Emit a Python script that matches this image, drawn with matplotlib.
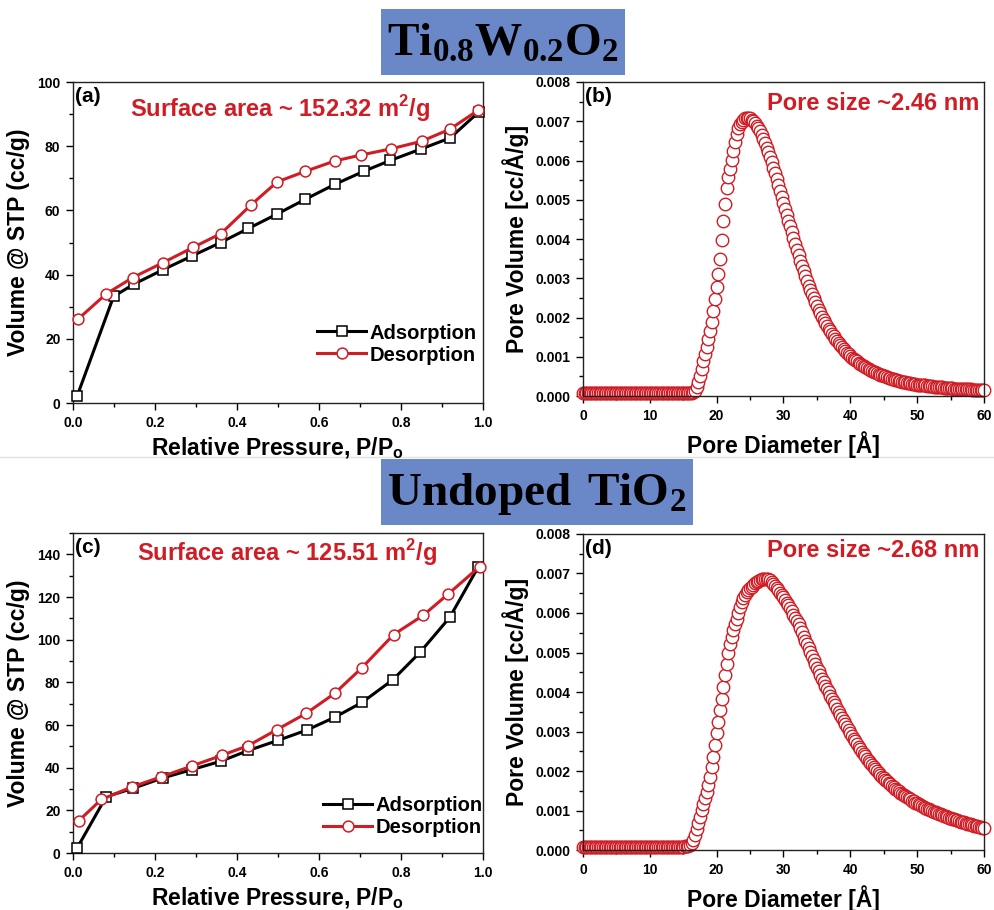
import numpy as np
import matplotlib
matplotlib.use("Agg")
import matplotlib.pyplot as plt
from matplotlib.patches import Rectangle
from matplotlib.lines import Line2D
from matplotlib.ticker import MultipleLocator, FormatStrFormatter

plt.rcParams["font.family"] = ["Liberation Sans", "DejaVu Sans"]
plt.rcParams["font.weight"] = "bold"
plt.rcParams["axes.labelweight"] = "bold"
plt.rcParams["mathtext.fontset"] = "custom"
plt.rcParams["mathtext.rm"] = "Liberation Sans:bold"
plt.rcParams["mathtext.bf"] = "Liberation Serif:bold"

RED = "#d01c24"
BOX_BLUE = "#6a88c8"

# -------------------------
# (a) Ti0.8W0.2O2 isotherm
# -------------------------
p_ads_a = [0.01, 0.099, 0.148, 0.219, 0.29, 0.36, 0.428, 0.498, 0.567, 0.638, 0.711, 0.774, 0.85, 0.92, 0.99]
v_ads_a = [2.1, 33.2, 37.0, 41.5, 45.8, 50.0, 54.4, 58.9, 63.5, 68.1, 72.3, 75.6, 79.2, 82.6, 90.7]
p_des_a = [0.012, 0.081, 0.146, 0.219, 0.293, 0.361, 0.434, 0.498, 0.567, 0.638, 0.703, 0.776, 0.851, 0.919, 0.988]
v_des_a = [26.1, 34.0, 39.1, 43.7, 48.5, 52.8, 61.7, 68.9, 72.2, 75.4, 77.3, 79.2, 81.6, 85.3, 91.2]

# -------------------------
# (c) undoped TiO2 isotherm
# -------------------------
p_ads_c = [0.01, 0.081, 0.146, 0.219, 0.29, 0.36, 0.428, 0.5, 0.571, 0.638, 0.705, 0.78, 0.847, 0.919, 0.989]
v_ads_c = [2.3, 26.4, 30.3, 35.2, 39.1, 43.0, 48.1, 52.8, 57.7, 63.6, 70.6, 81.2, 94.2, 110.5, 134.3]
p_des_c = [0.014, 0.069, 0.144, 0.215, 0.29, 0.363, 0.428, 0.498, 0.569, 0.638, 0.705, 0.782, 0.854, 0.915, 0.992]
v_des_c = [15.1, 25.1, 31.0, 35.7, 40.8, 45.8, 50.4, 57.9, 65.5, 74.8, 86.9, 102.4, 111.4, 121.4, 134.3]

# -------------------------
# Pore size distributions, 0.25 A steps from 0 to 60 A
# values in units of 1e-5 cc/A/g
# -------------------------
PSD_STEP = 0.25
psd_flat = [8] * 60  # 0 .. 14.75 A, flat baseline

psd_b = psd_flat + [
    8, 8, 8, 8, 8, 8, 9, 14, 22, 35, 52, 70, 90, 108, 126, 145, 165, 189, 217, 247,
    278, 312, 350, 397, 447, 490, 530, 557, 579, 601, 624, 648, 668, 682, 692, 699, 704, 707, 709, 709,
    707, 704, 700, 695, 689, 682, 674, 665, 655, 644, 633, 621, 608, 595, 581, 567, 552, 537, 522, 507,
    492, 477, 462, 447, 432, 417, 402, 387, 373, 359, 345, 331, 318, 305, 293, 281, 270, 259, 249, 239,
    229, 220, 211, 202, 194, 186, 179, 172, 165, 158, 152, 146, 140, 134, 129, 124, 119, 114, 110, 106,
    102, 98, 95, 91, 88, 85, 82, 79, 76, 73, 71, 68, 66, 64, 62, 60, 58, 56, 54, 53,
    51, 50, 48, 47, 45, 44, 43, 41, 40, 39, 38, 37, 36, 35, 34, 33, 32, 31, 31, 30,
    29, 29, 28, 28, 27, 27, 26, 26, 25, 25, 24, 24, 23, 23, 22, 22, 21, 21, 21, 20,
    20, 20, 19, 19, 19, 18, 18, 18, 18, 17, 17, 17, 17, 16, 16, 16, 16, 15, 15, 15,
    15,
]

psd_d = psd_flat + [
    8, 9, 10, 11, 13, 18, 26, 38, 52, 68, 84, 101, 116, 131, 148, 165, 185, 209, 235, 265,
    295, 324, 354, 383, 413, 442, 472, 499, 522, 540, 557, 572, 586, 600, 614, 627, 637, 645, 652, 658,
    663, 667, 672, 675, 679, 682, 684, 686, 687, 687, 686, 685, 683, 679, 674, 669, 663, 657, 651, 646,
    640, 633, 626, 619, 612, 604, 596, 588, 580, 571, 562, 551, 540, 530, 521, 511, 502, 492, 482, 472,
    462, 453, 443, 434, 425, 416, 407, 399, 390, 382, 374, 366, 358, 350, 342, 335, 327, 319, 311, 304,
    296, 289, 282, 275, 268, 262, 255, 249, 243, 237, 231, 226, 220, 215, 210, 205, 200, 195, 191, 186,
    182, 178, 174, 170, 166, 162, 159, 155, 152, 149, 145, 142, 139, 136, 133, 131, 128, 125, 123, 120,
    118, 116, 113, 111, 109, 107, 105, 103, 101, 99, 97, 96, 94, 92, 90, 89, 87, 85, 84, 82,
    81, 79, 78, 76, 75, 74, 72, 71, 70, 69, 67, 66, 65, 64, 62, 61, 60, 59, 58, 57,
    56,
]


def style_axes(ax):
    for sp in ax.spines.values():
        sp.set_linewidth(1.0)
        sp.set_color("#222222")
    ax.tick_params(which="major", direction="out", length=5, width=1.0,
                   labelsize=10, pad=4, top=False, right=False)
    ax.tick_params(which="minor", direction="out", length=3, width=1.0,
                   top=False, right=False)
    for lab in ax.get_xticklabels() + ax.get_yticklabels():
        lab.set_fontweight("bold")


def plot_isotherm(ax, p_ads, v_ads, p_des, v_des, ymax, panel, area, leg_anchor):
    ax.plot(p_ads, v_ads, color="black", lw=2.2, marker="s", ms=7.2,
            mfc="white", mec="black", mew=1.1, label="Adsorption", clip_on=False, zorder=3)
    ax.plot(p_des, v_des, color=RED, lw=2.2, marker="o", ms=7.8,
            mfc="white", mec=RED, mew=1.1, label="Desorption", clip_on=False, zorder=4)
    ax.set_xlim(0, 1.0)
    ax.set_ylim(0, ymax)
    ax.xaxis.set_major_locator(MultipleLocator(0.2))
    ax.xaxis.set_minor_locator(MultipleLocator(0.1))
    ax.xaxis.set_major_formatter(FormatStrFormatter("%.1f"))
    ax.yaxis.set_major_locator(MultipleLocator(20))
    ax.yaxis.set_minor_locator(MultipleLocator(10))
    ax.yaxis.set_major_formatter(FormatStrFormatter("%d"))
    ax.set_xlabel("Relative Pressure, P/P$_\\mathrm{o}$", fontsize=16.5, labelpad=4)
    ax.set_ylabel("Volume @ STP (cc/g)", fontsize=16.5, labelpad=5)
    ax.text(0.005, 0.985, panel, transform=ax.transAxes, fontsize=15,
            va="top", ha="left")
    ax.text(area[0], area[1], area[2], transform=ax.transAxes, fontsize=17,
            color=RED, va="center", ha="center")
    ax.legend(loc="lower right", bbox_to_anchor=leg_anchor, frameon=False,
              prop={"size": 14.5, "weight": "bold"}, handlelength=2.4,
              handletextpad=0.2, labelspacing=0.15, borderpad=0, borderaxespad=0)
    style_axes(ax)


def plot_psd(ax, values, panel, size_text, size_y):
    y = np.array(values) * 1e-5
    x = np.arange(len(y)) * PSD_STEP
    ax.plot(x, y, linestyle="none", marker="o", ms=9.0, mfc="white",
            mec=RED, mew=1.0, clip_on=False, zorder=2)
    ax.set_xlim(0, 60)
    ax.set_ylim(0, 0.008)
    ax.xaxis.set_major_locator(MultipleLocator(10))
    ax.xaxis.set_minor_locator(MultipleLocator(5))
    ax.xaxis.set_major_formatter(FormatStrFormatter("%d"))
    ax.yaxis.set_major_locator(MultipleLocator(0.001))
    ax.yaxis.set_minor_locator(MultipleLocator(0.0005))
    ax.yaxis.set_major_formatter(FormatStrFormatter("%.3f"))
    ax.set_xlabel("Pore Diameter [Å]", fontsize=16.5, labelpad=6)
    ax.set_ylabel("Pore Volume [cc/Å/g]", fontsize=16.5, labelpad=5)
    ax.text(0.005, 0.985, panel, transform=ax.transAxes, fontsize=15,
            va="top", ha="left")
    ax.text(0.988, size_y, size_text, transform=ax.transAxes, fontsize=17,
            color=RED, va="center", ha="right")
    style_axes(ax)


fig = plt.figure(figsize=(9.94, 9.10), dpi=100)

# faint divider between the two rows
fig.add_artist(Line2D([0, 1], [1 - 457 / 910, 1 - 457 / 910], transform=fig.transFigure,
                      color="#e2e2e2", lw=1.0, zorder=0))

ax_a = fig.add_axes([0.0734, 0.5571, 0.4125, 0.3527])
ax_b = fig.add_axes([0.5865, 0.5648, 0.4034, 0.3451])
ax_c = fig.add_axes([0.0734, 0.0626, 0.4125, 0.3516])
ax_d = fig.add_axes([0.5865, 0.0659, 0.4034, 0.3473])

plot_isotherm(ax_a, p_ads_a, v_ads_a, p_des_a, v_des_a, 100, "(a)",
              (0.504, 0.919, "Surface area ~ 152.32 m$^\\mathrm{2}$/g"), (0.985, 0.12))
plot_isotherm(ax_c, p_ads_c, v_ads_c, p_des_c, v_des_c, 150, "(c)",
              (0.523, 0.94, "Surface area ~ 125.51 m$^\\mathrm{2}$/g"), (1.0, 0.05))
plot_psd(ax_b, psd_b, "(b)", "Pore size ~2.46 nm", 0.932)
plot_psd(ax_d, psd_d, "(d)", "Pore size ~2.68 nm", 0.949)

# title boxes
fig.add_artist(Rectangle((381 / 994, 1 - 75 / 910), 244 / 994, 66 / 910,
                         transform=fig.transFigure, facecolor=BOX_BLUE, edgecolor="none", zorder=1))
fig.text(503 / 994, 1 - 44 / 910, r"$\mathbf{Ti_{0.8}W_{0.2}O_2}$", fontsize=34,
         ha="center", va="center", zorder=2)
fig.add_artist(Rectangle((381 / 994, 1 - 525 / 910), 312 / 994, 66 / 910,
                         transform=fig.transFigure, facecolor=BOX_BLUE, edgecolor="none", zorder=1))
fig.text(537 / 994, 1 - 494 / 910, r"$\mathbf{Undoped\ TiO_2}$", fontsize=34,
         ha="center", va="center", zorder=2)

fig.savefig("out.png", dpi=100)
